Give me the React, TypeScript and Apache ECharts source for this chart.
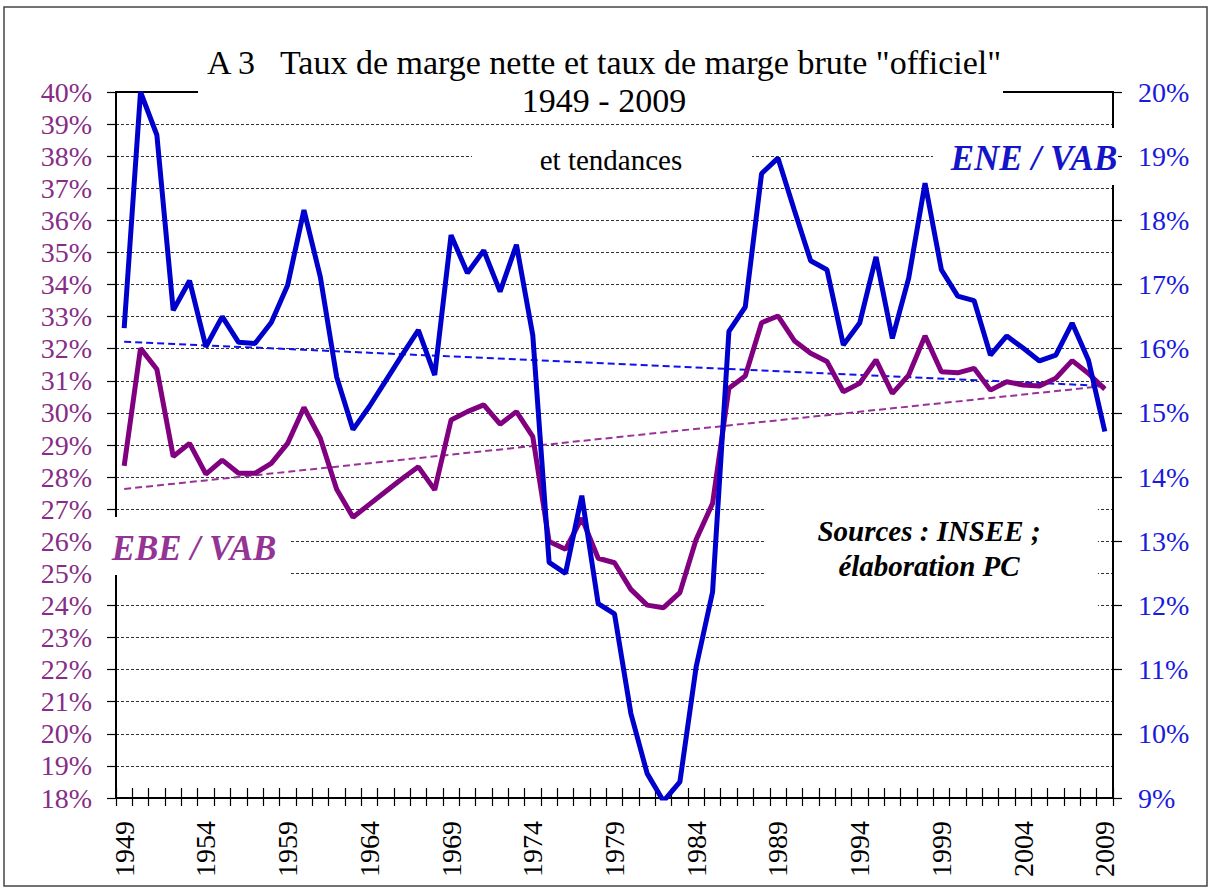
import React, { useEffect, useRef } from "react";
import * as echarts from "echarts";

const years = [
  "1949","1950","1951","1952","1953","1954","1955","1956","1957","1958",
  "1959","1960","1961","1962","1963","1964","1965","1966","1967","1968",
  "1969","1970","1971","1972","1973","1974","1975","1976","1977","1978",
  "1979","1980","1981","1982","1983","1984","1985","1986","1987","1988",
  "1989","1990","1991","1992","1993","1994","1995","1996","1997","1998",
  "1999","2000","2001","2002","2003","2004","2005","2006","2007","2008",
  "2009",
];

// ENE / VAB (right axis, %)
const eneVab = [
  16.32, 20.0, 19.33, 16.6, 17.06, 16.03, 16.5, 16.1, 16.08, 16.41,
  16.99, 18.16, 17.12, 15.56, 14.74, 15.1, 15.5, 15.9, 16.29, 15.59,
  17.77, 17.18, 17.53, 16.89, 17.62, 16.21, 12.67, 12.5, 13.71, 12.03,
  11.87, 10.32, 9.38, 8.95, 9.25, 11.05, 12.21, 16.27, 16.65, 18.73,
  18.97, 18.16, 17.37, 17.23, 16.06, 16.4, 17.43, 16.16, 17.1, 18.58,
  17.23, 16.82, 16.75, 15.9, 16.2, 16.01, 15.81, 15.9, 16.4, 15.82,
  14.71,
];

// EBE / VAB (left axis, %)
const ebeVab = [
  28.35, 32.01, 31.36, 28.64, 29.05, 28.09, 28.53, 28.12, 28.12, 28.43,
  29.05, 30.17, 29.21, 27.62, 26.75, 27.15, 27.55, 27.95, 28.32, 27.6,
  29.78, 30.04, 30.25, 29.65, 30.04, 29.26, 25.99, 25.75, 26.72, 25.47,
  25.33, 24.5, 24.01, 23.93, 24.4, 26.06, 27.18, 30.77, 31.15, 32.81,
  33.02, 32.25, 31.86, 31.6, 30.66, 30.92, 31.65, 30.61, 31.18, 32.4,
  31.28, 31.25, 31.39, 30.71, 30.97, 30.87, 30.84, 31.08, 31.63, 31.23,
  30.74,
];

// linear trends (end points)
const trendYears = ["1949", "2009"];
const eneTrend = [16.11, 15.42];
const ebeTrend = [27.63, 30.84];

const leftRange = [18, 40];
const rightRange = [9, 20];

const serif = "Liberation Serif";
const purpleLabel = "#862D86";
const blueLabel = "#1A1ADB";

export default function App() {
  const ref = useRef<HTMLDivElement>(null);

  useEffect(() => {
    document.body.style.margin = "0";
    if (!ref.current) return;
    const chart = echarts.init(ref.current, null, { renderer: "svg" });
    const tickStyle = { color: "#000", width: 1.2 };
    const whiteRect = (x: number, y: number, w: number, h: number) => ({
      type: "rect",
      z: 100,
      shape: { x, y, width: w, height: h },
      style: { fill: "#fff" },
    });
    const txt = (
      x: number,
      y: number,
      text: string,
      size: number,
      fill: string,
      bi = false
    ) => ({
      type: "text",
      z: 110,
      x,
      y,
      style: {
        text,
        font: `${bi ? "italic bold " : ""}${size}px 'Liberation Serif', serif`,
        fill,
        textAlign: "center",
        verticalAlign: "middle",
      },
    });

    const option: any = {
      animation: false,
      backgroundColor: "#fff",
      grid: { left: 116, right: 99, top: 92, bottom: 93, containLabel: false },
      xAxis: [
        {
          type: "category",
          data: years,
          position: "bottom",
          boundaryGap: true,
          axisLine: { lineStyle: { color: "#000", width: 2 } },
          axisTick: { show: true, interval: 0, length: 8, lineStyle: tickStyle },
          axisLabel: {
            interval: 4,
            rotate: 90,
            margin: 23,
            fontSize: 28,
            fontFamily: serif,
            color: "#000",
          },
          splitLine: { show: false },
        },
        {
          type: "category",
          data: years,
          position: "bottom",
          boundaryGap: true,
          axisLine: { show: false },
          axisTick: { show: true, inside: true, interval: 0, length: 10, lineStyle: tickStyle },
          axisLabel: { show: false },
          splitLine: { show: false },
        },
        {
          type: "category",
          data: years,
          position: "top",
          boundaryGap: true,
          axisLine: { show: true, lineStyle: { color: "#000", width: 2 } },
          axisTick: { show: false },
          axisLabel: { show: false },
          splitLine: { show: false },
        },
      ],
      yAxis: [
        {
          type: "value",
          position: "left",
          min: leftRange[0],
          max: leftRange[1],
          interval: 1,
          axisLine: { show: true, lineStyle: { color: "#000", width: 2 } },
          axisTick: { show: true, length: 9, lineStyle: tickStyle },
          axisLabel: {
            formatter: "{value}%",
            color: purpleLabel,
            fontSize: 28,
            fontFamily: serif,
            margin: 24,
          },
          splitLine: { show: true, lineStyle: { color: "#333", width: 1, type: [3, 2] } },
        },
        {
          type: "value",
          position: "right",
          min: rightRange[0],
          max: rightRange[1],
          interval: 1,
          axisLine: { show: true, lineStyle: { color: "#000", width: 2 } },
          axisTick: { show: true, length: 9, lineStyle: tickStyle },
          axisLabel: {
            formatter: "{value}%",
            color: blueLabel,
            fontSize: 28,
            fontFamily: serif,
            margin: 25,
          },
          splitLine: { show: false },
        },
      ],
      series: [
        {
          name: "EBE / VAB trend",
          type: "line",
          xAxisIndex: 0,
          yAxisIndex: 0,
          data: trendYears.map((y, i) => [y, ebeTrend[i]]),
          symbol: "none",
          lineStyle: { color: "#993399", width: 2, type: [7, 4] },
          z: 3,
        },
        {
          name: "ENE / VAB trend",
          type: "line",
          xAxisIndex: 0,
          yAxisIndex: 1,
          data: trendYears.map((y, i) => [y, eneTrend[i]]),
          symbol: "none",
          lineStyle: { color: "#1010F0", width: 2, type: [7, 4] },
          z: 3,
        },
        {
          name: "EBE / VAB",
          type: "line",
          xAxisIndex: 0,
          yAxisIndex: 0,
          data: ebeVab,
          symbol: "none",
          lineStyle: { color: "#800080", width: 5 },
          z: 4,
        },
        {
          name: "ENE / VAB",
          type: "line",
          xAxisIndex: 0,
          yAxisIndex: 1,
          data: eneVab,
          symbol: "none",
          lineStyle: { color: "#0000CC", width: 5 },
          z: 5,
        },
      ],
      graphic: [
        whiteRect(198, 35, 805, 77),
        whiteRect(472, 135, 280, 45),
        whiteRect(933, 128, 185, 57),
        whiteRect(100, 517, 190, 58),
        whiteRect(765, 485, 333, 138),
        txt(604, 62, 'A 3   Taux de marge nette et taux de marge brute "officiel"', 34, "#000"),
        txt(604, 100, "1949 - 2009", 34, "#000"),
        txt(611, 160, "et tendances", 29, "#000"),
        txt(1034, 158, "ENE / VAB", 35, "#1515C8", true),
        txt(194, 548, "EBE / VAB", 35, "#943494", true),
        txt(929, 531, "Sources : INSEE ;", 29, "#000", true),
        txt(929, 566, "élaboration PC", 29, "#000", true),
        {
          type: "rect",
          z: 120,
          shape: { x: 4, y: 7, width: 1203, height: 879 },
          style: { fill: "none", stroke: "#444", lineWidth: 1.5 },
        },
      ],
    };
    chart.setOption(option);
    return () => chart.dispose();
  }, []);

  return <div ref={ref} style={{ width: 1212, height: 891 }} />;
}
